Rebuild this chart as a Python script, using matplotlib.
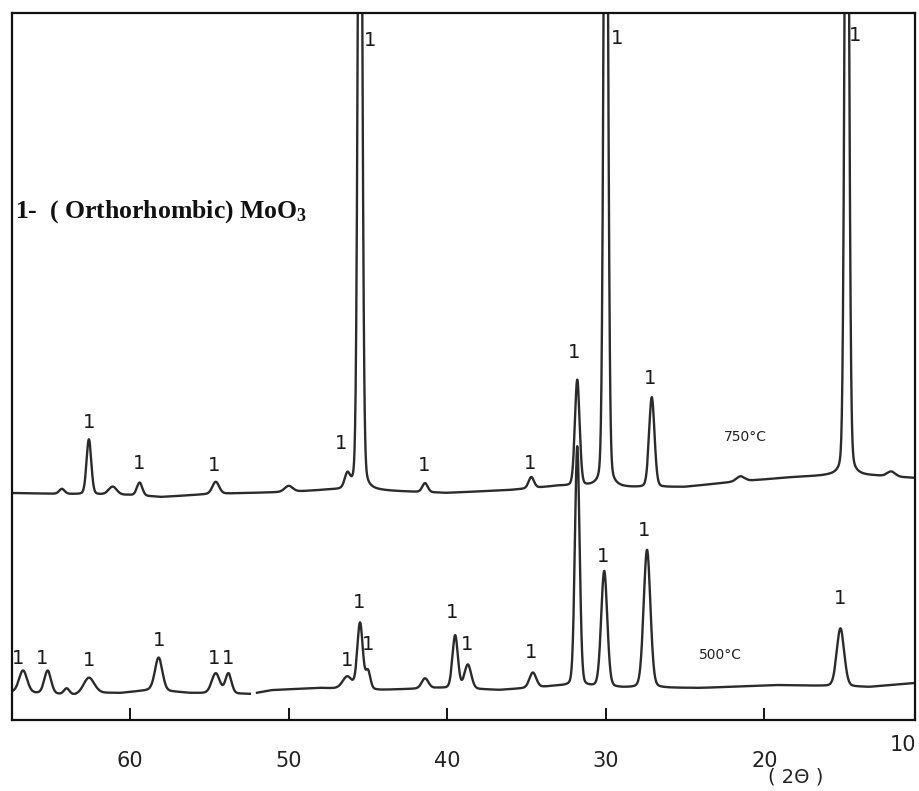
import numpy as np
import matplotlib
matplotlib.use("Agg")
import matplotlib.pyplot as plt
from matplotlib.transforms import blended_transform_factory

plt.rcParams['mathtext.fontset'] = 'custom'
plt.rcParams['mathtext.rm'] = 'Liberation Serif:bold'
plt.rcParams['mathtext.it'] = 'Liberation Serif:bold:italic'
plt.rcParams['mathtext.bf'] = 'Liberation Serif:bold'

# ---------------- data ----------------
# 750 °C pattern: baseline knots (2theta, intensity)
top_base_x = [67.5, 64, 60, 58, 55, 50, 47.5, 44, 40, 36, 33, 29, 25, 22, 18, 16, 13, 10.5]
top_base_y = [227, 226, 225, 223, 226, 228, 230, 229, 227, 230, 234, 232, 233, 238, 243, 244, 244, 242]
# peaks: position (2theta), height above baseline, FWHM (deg)
top_pk_pos = [64.3, 62.6, 61.1, 59.4, 54.6, 50.0, 46.3, 45.5, 41.4, 34.7, 31.8, 30.0, 27.1, 21.5, 14.8, 12.0]
top_pk_h   = [5,    55,   8,    13,   12,   6,    14,   900,  9,    11,   106,  900,  90,   5,    900,  5]
top_pk_w   = [0.4,  0.35, 0.6,  0.4,  0.5,  0.6,  0.4,  0.3,  0.4,  0.4,  0.35, 0.3,  0.4,  0.6,  0.3,  0.6]

# 500 °C pattern
bot_base_x = [67.5, 63.5, 62, 60.6, 58.7, 56.2, 52.4, 51, 48, 44.2, 40.5, 36.7, 33, 29, 24, 19, 13.4, 10.5]
bot_base_y = [28, 25, 27, 27, 30, 27, 26, 30, 32, 30, 32, 30, 34, 32, 32, 35, 33, 37]
bot_pk_pos = [66.75, 65.2, 64.0, 62.6, 58.2, 54.6, 53.8, 46.3, 45.5, 45.0, 41.4, 39.5, 38.7, 34.6, 31.8, 30.1, 27.4, 15.2]
bot_pk_h   = [22,    23,   6,    16,   33,   20,   20,   12,   66,   18,   10,   53,   24,   15,   240,  116,  138,  58]
bot_pk_w   = [0.6,   0.5,  0.4,  0.8,  0.55, 0.6,  0.45, 0.7,  0.4,  0.35, 0.5,  0.4,  0.5,  0.5,  0.35, 0.45, 0.5,  0.55]
bot_gap = [52.45, 52.0]   # small break in the scanned 500 °C trace

# "1" phase markers: (2theta, height)
top_lab_x = [62.59, 59.43, 54.70, 46.69, 44.86, 41.45, 34.76, 31.99, 29.27, 27.19, 14.26]
top_lab_y = [298, 257, 255, 277, 680, 255, 257, 368, 682, 342, 685]
bot_lab_x = [67.07, 65.55, 62.59, 58.17, 54.70, 53.82, 46.31, 45.55, 44.98, 39.68, 38.74, 34.70, 30.16, 27.57, 15.20]
bot_lab_y = [62, 62, 60, 80, 62, 62, 60, 117, 75, 107, 75, 67, 163, 190, 122]

x_ticks = [60, 50, 40, 30, 20]
x_ticklabels = ["60", "50", "40", "30", "20"]
edge_label = "10"


def pattern(x, bx, by, pos, h, w, eta=0.15):
    order = np.argsort(bx)
    y = np.interp(x, np.array(bx)[order], np.array(by)[order])
    for p, hh, ww in zip(pos, h, w):
        hw = ww / 2.0
        lor = 1.0 / (1.0 + ((x - p) / hw) ** 2)
        gau = np.exp(-np.log(2) * ((x - p) / hw) ** 2)
        y = y + hh * (eta * lor + (1 - eta) * gau)
    return y


xx = np.linspace(10.3, 67.7, 8000)
y_top = pattern(xx, top_base_x, top_base_y, top_pk_pos, top_pk_h, top_pk_w)
y_bot = pattern(xx, bot_base_x, bot_base_y, bot_pk_pos, bot_pk_h, bot_pk_w)
y_bot = np.where((xx < bot_gap[0]) & (xx > bot_gap[1]), np.nan, y_bot)

W, H = 920, 791
fig = plt.figure(figsize=(W / 100, H / 100), dpi=100)
ax = fig.add_axes([12 / W, 1 - 720 / H, (915 - 12) / W, (720 - 13) / H])
ax.set_xlim(67.45, 10.5)
ax.set_ylim(0, 707)

lc = '#2b2b2b'
ax.plot(xx, y_top, color=lc, lw=1.7)
ax.plot(xx, y_bot, color=lc, lw=1.7)

for lx, ly in zip(top_lab_x + bot_lab_x, top_lab_y + bot_lab_y):
    ax.text(lx, ly, "1", ha='center', va='center', fontsize=14,
            color='#1a1a1a', family='DejaVu Sans')

ax.text(21.2, 720 - 437, "750°C", ha='center', va='center', fontsize=10, color='#222')
ax.text(22.8, 720 - 655, "500°C", ha='center', va='center', fontsize=10, color='#222')

for s in ax.spines.values():
    s.set_linewidth(1.6)
    s.set_color('#111')

ax.set_xticks(x_ticks)
ax.set_xticklabels(x_ticklabels, fontsize=15, color='#222')
ax.tick_params(axis='x', direction='in', length=9, width=1.3, pad=22)
ax.set_yticks([])

trans = blended_transform_factory(ax.transData, fig.transFigure)
ax.text(11.25, 1 - 745 / H, edge_label, transform=trans, ha='center', va='center',
        fontsize=15, color='#222', clip_on=False)

fig.text(15 / W, 1 - 212 / H, "1-  ( Orthorhombic) MoO$_3$", ha='left', va='center',
         fontsize=18.5, fontweight='bold', family='Liberation Serif', color='#111')
fig.text(796 / W, 1 - 777 / H, "( 2Θ )", ha='center', va='center', fontsize=14, color='#222')

fig.savefig("out.png", dpi=100)
